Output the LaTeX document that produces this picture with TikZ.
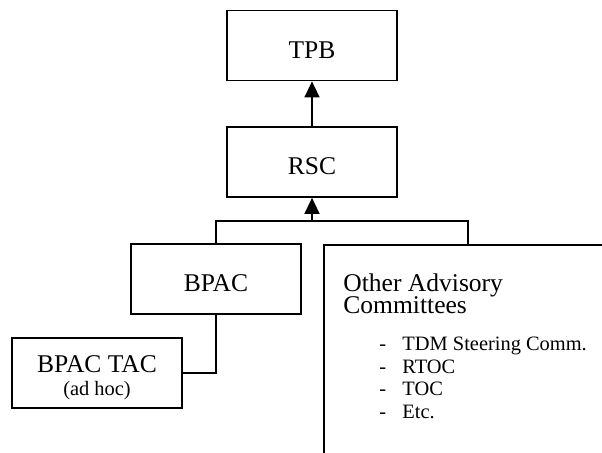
\documentclass[tikz,border=0pt]{standalone}
\usepackage{fontspec}
\setmainfont{Liberation Serif}
\usetikzlibrary{arrows.meta}
\definecolor{ink}{HTML}{000000}
\tikzset{
  box/.style={draw=ink, line width=0.8pt, inner sep=0pt, minimum width=79.9pt, minimum height=32.9pt,
    font=\fontsize{12}{14}\selectfont, text height=11.8pt, text depth=0pt},
  wire/.style={draw=ink, line width=0.8pt},
  up/.style={wire, -{Triangle[length=7.5pt,width=7pt]}},
  lab/.style={text=ink, inner sep=0pt, font=\fontsize{12}{14}\selectfont},
  note/.style={text=ink, inner sep=0pt, font=\fontsize{9.6}{11}\selectfont},
}

\begin{document}
\begin{tikzpicture}[x=0.47pt, y=-0.47pt]
  \useasboundingbox (0,0) rectangle (602,452);
  \clip (0,0) rectangle (602,452);

  \node[box] (tpb) at (312,45.5) {TPB};
  \node[box] (rsc) at (312,162) {RSC};
  \node[box] (bpac) at (216,279) {BPAC};
  \node[box] (tac) at (97,373) {};
  \node[box, anchor=north west, minimum width=150pt, minimum height=110pt] (other) at (323,244) {};

  \coordinate (join) at (312,221);
  \coordinate (otherjoin) at (468,244);
  \draw[up] (rsc.north) -- (tpb.south);
  \draw[wire] (bpac.north) |- (join) -| (otherjoin);
  \draw[up] (join) -- (rsc.south);
  \draw[wire] (bpac.south) |- (tac.east);

  \node[lab, anchor=base] (tacname) at (97,372) {BPAC TAC};
  \node[note, anchor=base] (tacnote) at (97,395) {(ad hoc)};

  % base of a two-line node is its last line
  \node[lab, align=left, anchor=base west] (othertitle) at (343,313) {Other Advisory\\[-4.1pt]Committees};
  \foreach \txt [count=\i from 0] in {TDM Steering Comm., RTOC, TOC, Etc.} {
    \node[note, anchor=base west] (dash\i) at (379,350.5+22.5*\i) {-};
    \node[note, anchor=base west] (item\i) at (402,350.5+22.5*\i) {\txt};
  }
\end{tikzpicture}
\end{document}
